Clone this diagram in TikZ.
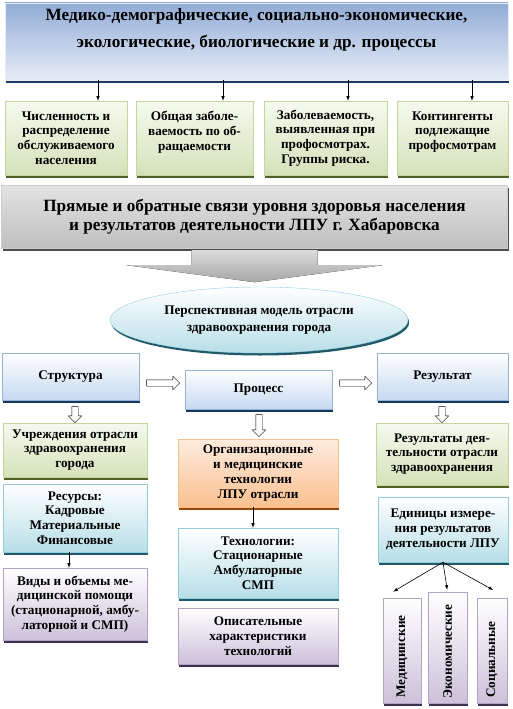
\documentclass[tikz,border=0pt]{standalone}
\usepackage{fontspec}
\setmainfont{Liberation Serif}[BoldFont={Liberation Serif Bold}]
\usetikzlibrary{shapes.geometric,shapes.arrows,shadows,calc}

\definecolor{hdtop}{RGB}{146,172,214}
\definecolor{hdbot}{RGB}{230,237,247}
\definecolor{hdsh}{RGB}{31,56,100}
\definecolor{grtop}{RGB}{246,249,238}
\definecolor{grbot}{RGB}{212,226,186}
\definecolor{grln}{RGB}{195,214,155}
\definecolor{grsh}{RGB}{79,98,40}
\definecolor{cybot}{RGB}{183,222,232}
\definecolor{cyln}{RGB}{147,205,221}
\definecolor{cysh}{RGB}{33,89,104}
\definecolor{ppbot}{RGB}{204,193,218}
\definecolor{ppln}{RGB}{179,162,199}
\definecolor{ppsh}{RGB}{63,49,81}
\definecolor{ortop}{RGB}{253,236,222}
\definecolor{orbot}{RGB}{250,192,144}
\definecolor{orsh}{RGB}{152,72,7}
\definecolor{blbot}{RGB}{198,217,241}
\definecolor{blln}{RGB}{149,179,215}
\definecolor{blsh}{RGB}{23,55,94}

\tikzset{
  box/.style={draw, thin, rectangle, align=center, inner sep=2pt,
    font=\bfseries\fontsize{13.2}{14.8}\selectfont},
  shd/.style={drop shadow={shadow xshift=1.2pt, shadow yshift=-2.5pt, fill=#1, opacity=1}},
  gbox/.style={box, draw=grln, top color=grtop, bottom color=grbot, shd=grsh},
  cbox/.style={box, draw=cyln, top color=white, bottom color=cybot, shd=cysh},
  pbox/.style={box, draw=ppln, top color=white, bottom color=ppbot, shd=ppsh},
  obox/.style={box, draw=orbot, top color=ortop, bottom color=orbot, shd=orsh},
  bbox/.style={box, draw=blln, top color=white, bottom color=blbot, shd=blsh},
  hollow/.style={single arrow, draw, thin, fill=white, minimum height=#1,
    minimum width=13pt, inner sep=3pt, single arrow head extend=3.5pt},
  arr/.style={semithick, -latex}
}

\begin{document}
\begin{tikzpicture}[x=1pt,y=-1pt]
\useasboundingbox (0,0) rectangle (512,709);

% top
\node[box, draw=hdbot, top color=hdtop, bottom color=hdbot, shd=hdsh,
  minimum width=503pt, minimum height=77pt,
  font=\bfseries\fontsize{17.2}{27}\selectfont] (head) at (256.5,41.5)
  {Медико-демографические, социально-экономические,\\экологические, биологические и др. процессы\\ \mbox{}};

\node[gbox, minimum width=122pt, minimum height=74pt] (g1) at (66,138)
  {Численность и\\распределение\\обслуживаемого\\населения};
\node[gbox, minimum width=117pt, minimum height=74pt] (g2) at (194.5,138)
  {Общая заболе-\\ваемость по об-\\ращаемости\\ \mbox{}};
\node[gbox, minimum width=123pt, minimum height=74pt] (g3) at (325.5,138)
  {Заболеваемость,\\выявленная при\\профосмотрах.\\Группы риска.};
\node[gbox, minimum width=111pt, minimum height=74pt] (g4) at (452.5,138)
  {Контингенты\\подлежащие\\профосмотрам\\ \mbox{}};
\foreach \n/\x in {g1/98,g2/223,g3/348,g4/472}
  \draw[arr] (\x,0 |- head.south) -- (\x,0 |- \n.north);

\node[box, draw=gray!40, top color=gray!22, middle color=white, bottom color=gray!50,
  shd=gray!60!black, minimum width=506pt, minimum height=63pt,
  font=\bfseries\fontsize{17.2}{18.5}\selectfont] (band) at (254.5,216.5)
  {Прямые и обратные связи уровня здоровья населения\\и результатов деятельности ЛПУ г. Хабаровска};
\fill[top color=gray!25, bottom color=gray!70] (band.south) ++(-63,2) -- ++(0,15)
  -- ++(-65,0) -- ++(128,17) -- ++(128,-17) -- ++(-65,0) -- ++(0,-15) -- cycle;

\node[ellipse, draw=cyln, top color=white, bottom color=cybot, shd=cysh, align=center,
  minimum width=298pt, minimum height=66pt,
  font=\bfseries\fontsize{13.2}{17}\selectfont] (model) at (259,320)
  {Перспективная модель отрасли\\здравоохранения города};

% structure - process - result
\node[bbox, minimum width=137pt, minimum height=47pt] (struct) at (70.5,376.5) {Структура};
\node[bbox, minimum width=147pt, minimum height=39pt] (proc) at (258.5,389.5) {Процесс};
\node[bbox, minimum width=131pt, minimum height=47pt] (res) at (442.5,376.5) {Результат};
\node[hollow=33pt] (h1) at (161.5,383) {};
\node[hollow=32pt] (h2) at (354,383) {};

% left
\node[gbox, minimum width=144pt, minimum height=54pt] (inst) at (75,450)
  {Учреждения отрасли\\здравоохранения\\города};
\node[cbox, minimum width=144pt, minimum height=68pt] (resrc) at (75,518)
  {Ресурсы:\\Кадровые\\Материальные\\Финансовые};
\node[pbox, minimum width=144pt, minimum height=72pt] (kinds) at (75,604)
  {Виды и объемы ме-\\дицинской помощи\\(стационарной, амбу-\\латорной и СМП)};
\draw[arr] ([xshift=-6pt]resrc.south) -- ([xshift=-6pt]kinds.north);

% center
\node[obox, minimum width=160pt, minimum height=68pt] (org) at (258,473)
  {Организационные\\и медицинские\\технологии\\ЛПУ отрасли};
\node[cbox, minimum width=160pt, minimum height=70pt] (tech) at (258,563)
  {Технологии:\\Стационарные\\Амбулаторные\\СМП};
\node[pbox, minimum width=160pt, minimum height=56pt] (descr) at (258,636)
  {Описательные\\характеристики\\технологий};
\draw[arr] ([xshift=-5pt]org.south) -- ([xshift=-5pt]tech.north);

% right
\node[gbox, minimum width=132pt, minimum height=62pt] (outc) at (442,454)
  {Результаты дея-\\тельности отрасли\\здравоохранения};
\node[cbox, minimum width=130pt, minimum height=65pt] (units) at (443,529.5)
  {Единицы измере-\\ния результатов\\деятельности ЛПУ};
\node[pbox, minimum width=38pt, minimum height=105pt] (v1) at (402,650.5) {\rotatebox{90}{Медицинские\hspace*{12pt}}};
\node[pbox, minimum width=39pt, minimum height=111pt] (v2) at (447.5,647.5) {\rotatebox{90}{Экономические\hspace*{8pt}}};
\node[pbox, minimum width=30pt, minimum height=105pt] (v3) at (492,650.5) {\rotatebox{90}{Социальные\hspace*{18pt}}};
\draw[arr, shorten >=12pt] (units.south) -- (v1.north west);
\draw[arr, shorten >=2pt] (units.south) -- (v2.north);
\draw[arr, shorten >=16pt] (units.south) -- (v3.north east);

% hollow down arrows
\node[hollow=16pt, shape border rotate=270] (d1) at (75,413) {};
\node[hollow=22pt, shape border rotate=270] (d2) at (259,424) {};
\node[hollow=16pt, shape border rotate=270] (d3) at (442,413) {};
\end{tikzpicture}
\end{document}
